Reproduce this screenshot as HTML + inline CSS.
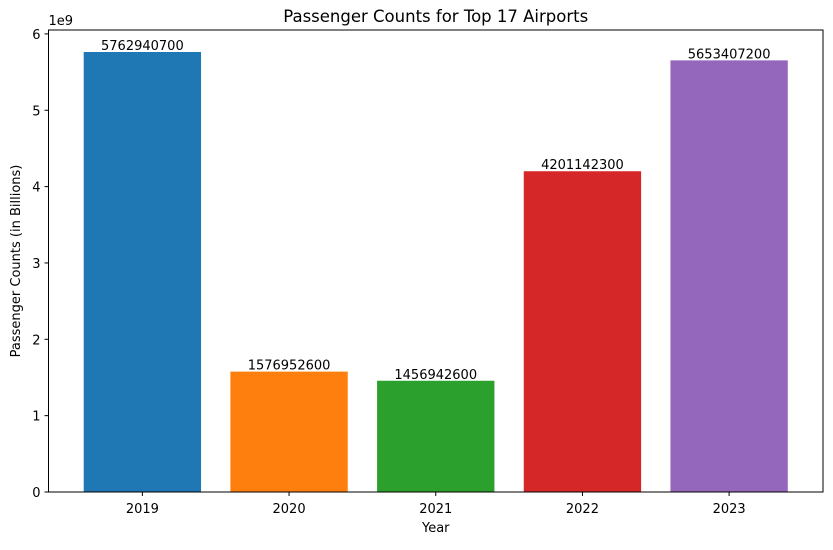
<!DOCTYPE html>
<html><head><meta charset="utf-8"><style>
body{margin:0;background:#fff;}
svg text{font-family:"DejaVu Sans","Liberation Sans",sans-serif;fill:#000;}
</style></head><body>
<svg id="c" width="833" height="545"></svg>
<script>
const categories=["2019","2020","2021","2022","2023"];
const values=[5762940700,1576952600,1456942600,4201142300,5653407200];
const colors=["#1f77b4","#ff7f0e","#2ca02c","#d62728","#9467bd"];
const yTicks=[0,1,2,3,4,5,6];
const L=48.5,R=823,T=30,B=492;
const ymax=Math.max(...values)*1.05;
const xmin=-0.64,xmax=categories.length-1+0.64;
const sx=i=>L+(i-xmin)/(xmax-xmin)*(R-L);
const sy=v=>B-v/ymax*(B-T);
const bw=0.8*(R-L)/(xmax-xmin);
const svg=document.getElementById('c');
const NS="http://www.w3.org/2000/svg";
function mk(t,a,txt){const e=document.createElementNS(NS,t);for(const k in a)e.setAttribute(k,a[k]);if(txt!==undefined)e.textContent=txt;svg.appendChild(e);return e;}
values.forEach((v,i)=>{
 const r=mk('rect',{x:sx(i)-bw/2,y:sy(v),width:bw,height:B-sy(v),fill:colors[i]});
 
 
 const t=mk('text',{x:sx(i),y:sy(v)-2,'text-anchor':'middle','font-size':13},String(v));
 
 
 mk('line',{x1:sx(i),x2:sx(i),y1:B,y2:B+4,stroke:'#000'});
 const xl=mk('text',{x:sx(i),y:B+21,'text-anchor':'middle','font-size':13},categories[i]);
 
 
});
yTicks.forEach(t=>{
 const y=sy(t*1e9);
 mk('line',{x1:L-4,x2:L,y1:y,y2:y,stroke:'#000'});
 const e=mk('text',{x:L-8,y:y+5,'text-anchor':'end','font-size':13},String(t));
 
 
});
const f=mk('rect',{x:L,y:T,width:R-L,height:B-T,fill:'none',stroke:'#000','stroke-width':1});


const ex=mk('text',{x:L,y:T-5,'font-size':13},'1e9');


const ti=mk('text',{x:(L+R)/2,y:T-8,'text-anchor':'middle','font-size':16.5},'Passenger Counts for Top 17 Airports');


const xt=mk('text',{x:(L+R)/2,y:532,'text-anchor':'middle','font-size':13},'Year');


const yt=mk('text',{x:0,y:0,'text-anchor':'middle','font-size':13,transform:`translate(20,${(T+B)/2}) rotate(-90)`},'Passenger Counts (in Billions)');


</script>
</body></html>
